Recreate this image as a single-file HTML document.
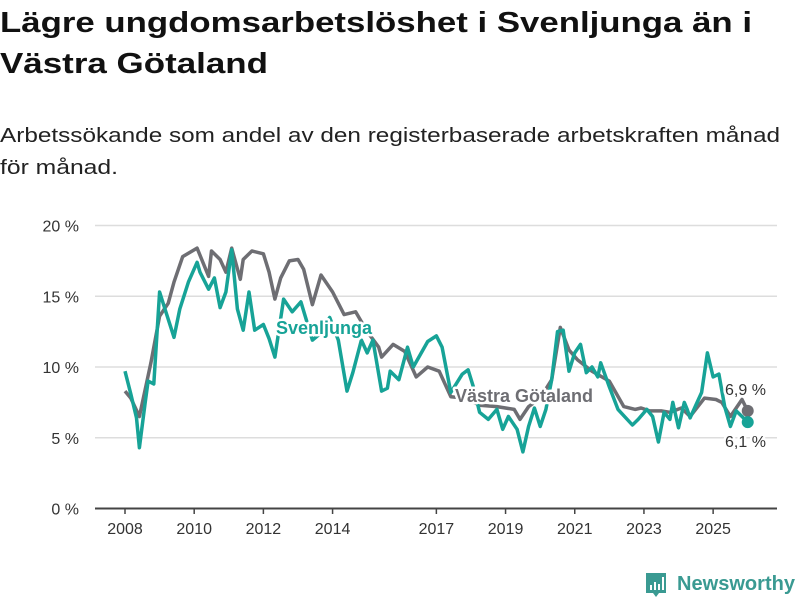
<!DOCTYPE html>
<html><head><meta charset="utf-8"><style>
body{margin:0;background:#fff}
svg{display:block;font-family:"Liberation Sans","DejaVu Sans",sans-serif}
</style></head><body>
<svg id="c" width="800" height="600" viewBox="0 0 800 600">
<text x="0" y="32" font-size="29" font-weight="bold" fill="#111" textLength="752" lengthAdjust="spacingAndGlyphs">Lägre ungdomsarbetslöshet i Svenljunga än i</text>
<text x="0" y="73" font-size="29" font-weight="bold" fill="#111" textLength="268" lengthAdjust="spacingAndGlyphs">Västra Götaland</text>
<text x="0" y="142" font-size="20" fill="#222" textLength="780" lengthAdjust="spacingAndGlyphs">Arbetssökande som andel av den registerbaserade arbetskraften månad</text>
<text x="0" y="174" font-size="20" fill="#222" textLength="118" lengthAdjust="spacingAndGlyphs">för månad.</text>
<g id="grid"></g><g id="xax"></g><g id="lines"></g><g id="labels"></g>
<g>
<path d="M646 573h20v20h-7l-3 4-3-4h-7z" fill="#3a9a92"/>
<rect x="650" y="585" width="2" height="5" fill="#fff"/><rect x="654" y="582" width="2" height="8" fill="#fff"/><rect x="658" y="584" width="2" height="6" fill="#fff"/><rect x="662" y="577" width="2" height="13" fill="#fff"/>
<text x="677" y="590" font-size="20" font-weight="bold" fill="#3a9a92" textLength="118" lengthAdjust="spacingAndGlyphs">Newsworthy</text>
</g>
</svg>
<script>
const yTicks=[0,5,10,15,20];
const xTickYears=[2008,2010,2012,2014,2017,2019,2021,2023,2025];
const svMonths=[0,2,4,5,7,8,10,12,14,17,19,22,25,26,29,31,33,35,37,39,41,43,45,48,50,52,55,58,61,65,68,71,74,77,79,82,84,86,89,91,92,95,98,100,105,108,110,113,117,119,121,123,126,129,131,133,136,138,140,142,144,146,148,150,152,154,156,158,160,162,164,165,168,171,176,178,181,183,185,187,189,190,192,194,195,196,200,202,204,206,208,210,212,214,216];
const svValues=[9.7,8.1,6.4,4.3,7.5,9.0,8.8,15.3,14.0,12.1,14.1,16.0,17.4,16.7,15.5,16.3,14.2,15.3,18.3,14.1,12.6,15.3,12.6,13.0,12.0,10.7,14.8,13.9,14.6,11.9,12.4,13.5,11.9,8.3,9.6,11.9,11.0,11.9,8.3,8.5,9.7,9.1,11.4,10.0,11.8,12.2,11.4,8.2,9.5,9.8,8.5,6.8,6.3,7.0,5.6,6.5,5.6,4.0,5.8,7.1,5.8,7.0,9.1,12.5,12.6,9.7,11.0,11.6,9.6,10.0,9.3,10.3,8.6,7.0,5.9,6.3,7.0,6.5,4.7,6.8,6.3,7.5,5.7,7.5,7.0,6.4,8.2,11.0,9.3,9.5,7.2,5.8,6.9,6.5,6.1];
const vgMonths=[0,2,5,9,12,15,17,20,25,29,30,33,35,37,40,41,44,48,50,52,54,57,60,62,65,68,72,76,80,84,88,89,93,97,101,105,109,113,118,123,129,135,137,140,144,148,151,154,157,162,168,173,177,179,182,186,189,193,196,201,205,207,210,214,216];
const vgValues=[8.3,7.8,6.5,10.3,13.6,14.5,16.0,17.8,18.4,16.4,18.2,17.6,16.7,18.4,16.2,17.6,18.2,18.0,16.7,14.8,16.3,17.5,17.6,16.9,14.4,16.5,15.3,13.7,13.9,12.5,11.4,10.7,11.6,11.1,9.3,10.0,9.7,7.9,7.8,7.3,7.2,7.0,6.3,7.2,7.8,9.1,12.8,11.2,10.5,9.7,9.0,7.2,7.0,7.1,6.9,6.9,6.8,7.1,6.5,7.8,7.7,7.5,6.5,7.7,6.9];
const NS='http://www.w3.org/2000/svg';
const X=m=>125+m*2.883;
const Y=v=>508.5-v*14.15;
function mk(tag,attrs,parent,txt){const e=document.createElementNS(NS,tag);for(const k in attrs)e.setAttribute(k,attrs[k]);if(txt!=null)e.textContent=txt;document.getElementById(parent).appendChild(e);return e;}
yTicks.forEach(t=>{
  const l=mk('line',{x1:95,x2:777,y1:Y(t),y2:Y(t),stroke:t===0?'#444':'#ddd','stroke-width':t===0?2:1.5},'grid');
  
  
  const tx=mk('text',{x:79,y:Y(t)+6,'font-size':16,fill:'#333','text-anchor':'end'},'grid',t+' %');
  
  
});
xTickYears.forEach(yr=>{
  const x=X((yr-2008)*12);
  const l=mk('line',{x1:x,x2:x,y1:508,y2:514,stroke:'#444','stroke-width':1.5},'xax');
  
  
  const t=mk('text',{x:x,y:534,'font-size':16,fill:'#333','text-anchor':'middle'},'xax',String(yr));
  
  
});
function path(ms,vs){return ms.map((m,i)=>(i?'L':'M')+X(m).toFixed(1)+' '+Y(vs[i]).toFixed(1)).join('');}
const g=mk('path',{d:path(vgMonths,vgValues),fill:'none',stroke:'#6e6e73','stroke-width':3.5,'stroke-linejoin':'round'},'lines');


const s=mk('path',{d:path(svMonths,svValues),fill:'none',stroke:'#17a397','stroke-width':3.5,'stroke-linejoin':'round'},'lines');


const gl=vgMonths.length-1, sl=svMonths.length-1;
const d1=mk('circle',{cx:X(vgMonths[gl]),cy:Y(vgValues[gl]),r:6,fill:'#6e6e73'},'lines');


const d2=mk('circle',{cx:X(svMonths[sl]),cy:Y(svValues[sl]),r:6,fill:'#17a397'},'lines');


function lab(x,y,txt,col,name,bold,anchor){
  const a={x:x,y:y,'font-size':bold?18:16,fill:col,'font-weight':bold?'bold':'normal',stroke:'#fff','stroke-width':5,'paint-order':'stroke','stroke-linejoin':'round','text-anchor':anchor||'start'};
  const t=mk('text',a,'labels',txt);
  
  
}
lab(276,334,'Svenljunga','#17a397','series-label-svenljunga',true);
lab(455,402,'Västra Götaland','#6e6e73','series-label-vastra-gotaland',true);
lab(725,395,String(vgValues[gl]).replace('.',',')+' %','#333','end-value-vastra-gotaland',false);
lab(725,447,String(svValues[sl]).replace('.',',')+' %','#333','end-value-svenljunga',false);
</script>
</body></html>
